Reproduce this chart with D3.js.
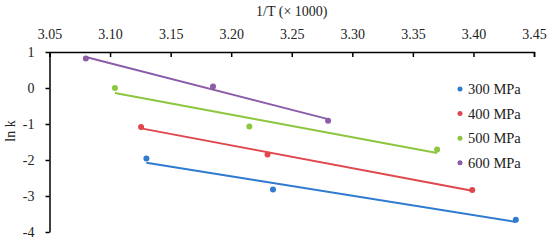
<!DOCTYPE html>
<html>
<head>
<meta charset="utf-8">
<script src="https://cdn.jsdelivr.net/npm/d3@7"></script>
<style>
  body { margin: 0; background: #fff; }
  text { font-family: "Liberation Serif", "DejaVu Serif", serif; fill: #222; }
</style>
</head>
<body>
<div id="chart"></div>
<script>
// series: 1/T (x1000) and ln k
const seriesNames = ["300 MPa", "400 MPa", "500 MPa", "600 MPa"];
const colors = ["#2e7bcf", "#e0474c", "#8dc63f", "#8b5ca8"];
const x300 = [3.130, 3.2345, 3.435];
const y300 = [-1.96, -2.82, -3.66];
const x400 = [3.1256, 3.230, 3.399];
const y400 = [-1.08, -1.85, -2.83];
const x500 = [3.104, 3.215, 3.370];
const y500 = [0.0, -1.07, -1.71];
const x600 = [3.080, 3.185, 3.280];
const y600 = [0.82, 0.04, -0.91];
const xTicks = [3.05, 3.10, 3.15, 3.20, 3.25, 3.30, 3.35, 3.40, 3.45];
const yTicks = [1, 0, -1, -2, -3, -4];

const series = [
  { name: seriesNames[0], xs: x300, ys: y300 },
  { name: seriesNames[1], xs: x400, ys: y400 },
  { name: seriesNames[2], xs: x500, ys: y500 },
  { name: seriesNames[3], xs: x600, ys: y600 },
].map((s, i) => ({ ...s, color: colors[i], points: s.xs.map((x, j) => ({ x, y: s.ys[j] })) }));

const width = 550, height = 242;
const margin = { top: 52, right: 16, bottom: 10, left: 49.5 };

const svg = d3.select("#chart").append("svg")
  .attr("width", width).attr("height", height);

const x = d3.scaleLinear().domain([3.05, 3.45]).range([margin.left, width - margin.right]);
const y = d3.scaleLinear().domain([1, -4]).range([margin.top, 232]);

// x axis on top, ticks pointing down
const xAxis = svg.append("g")
  .attr("transform", `translate(0,${margin.top})`)
  .call(d3.axisTop(x).tickValues(xTicks).tickFormat(d3.format(".2f")).tickSizeInner(-5).tickSizeOuter(-5).tickPadding(13));
xAxis.select(".domain").attr("stroke", "#000").attr("stroke-width", 1.5);
xAxis.selectAll(".tick line").attr("stroke", "#000").attr("stroke-width", 1.5);
xAxis.selectAll("text").attr("font-size", 14).attr("fill", "#222");

const yAxis = svg.append("g")
  .attr("transform", `translate(${margin.left},0)`)
  .call(d3.axisLeft(y).tickValues(yTicks).tickFormat((d) => String(d)).tickSizeInner(4).tickSizeOuter(0).tickPadding(11));
yAxis.select(".domain").attr("stroke", "#000").attr("stroke-width", 1.5);
yAxis.selectAll(".tick line").attr("stroke", "#000").attr("stroke-width", 1.5);
yAxis.selectAll("text").attr("font-size", 14).attr("fill", "#222");

svg.append("text")
  .attr("x", (x.range()[0] + x.range()[1]) / 2)
  .attr("y", 16)
  .attr("text-anchor", "middle")
  .attr("font-size", 14)
  .text("1/T (× 1000)");

svg.append("text")
  .attr("transform", "translate(15,131) rotate(-90)")
  .attr("text-anchor", "middle")
  .attr("font-size", 14)
  .text("ln k");

// linear trend line for each series
function fit(pts) {
  const mx = d3.mean(pts, (d) => d.x), my = d3.mean(pts, (d) => d.y);
  const b = d3.sum(pts, (d) => (d.x - mx) * (d.y - my)) / d3.sum(pts, (d) => (d.x - mx) ** 2);
  const a = my - b * mx;
  const [x0, x1] = d3.extent(pts, (d) => d.x);
  return [{ x: x0, y: a + b * x0 }, { x: x1, y: a + b * x1 }];
}

const line = d3.line().x((d) => x(d.x)).y((d) => y(d.y));

svg.selectAll(".trend")
  .data(series)
  .enter()
  .append("path")
  .attr("class", "trend")
  .attr("d", (d) => line(fit(d.points)))
  .attr("fill", "none")
  .attr("stroke", (d) => d.color)
  .attr("stroke-width", 2);

series.forEach((s) => {
  svg.selectAll(null)
    .data(s.points)
    .enter()
    .append("circle")
    .attr("cx", (d) => x(d.x))
    .attr("cy", (d) => y(d.y))
    .attr("r", 3)
    .attr("fill", s.color);
});

// legend
const legend = svg.append("g").attr("transform", "translate(460,89)");
const items = legend.selectAll("g")
  .data(series)
  .enter()
  .append("g")
  .attr("transform", (d, i) => `translate(0,${i * 24.6})`);
items.append("circle").attr("r", 2.5).attr("fill", (d) => d.color);
items.append("text")
  .attr("x", 8)
  .attr("dy", "0.35em")
  .attr("font-size", 14.5)
  .text((d) => d.name);
</script>
</body>
</html>
